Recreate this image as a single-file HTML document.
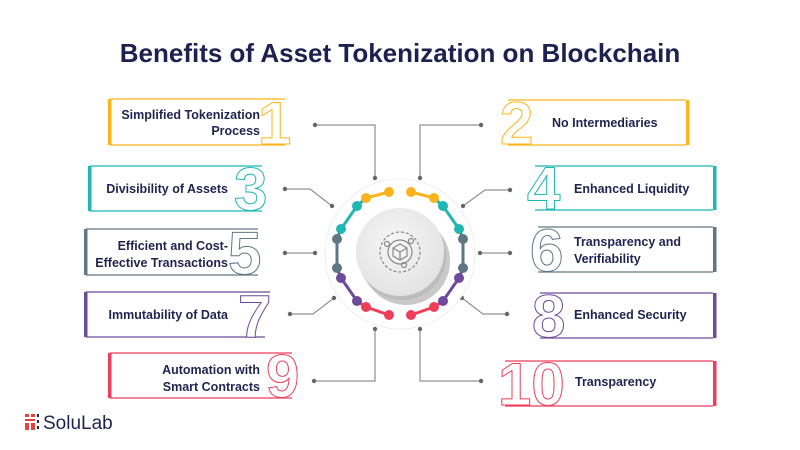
<!DOCTYPE html>
<html><head><meta charset="utf-8"><style>
body{margin:0;background:#fff;}
svg{display:block;font-family:"Liberation Sans",sans-serif;}
.t{font-weight:bold;font-size:12.5px;fill:#1f2450;}
.n{font-weight:bold;font-size:60px;fill:#fff;stroke-width:1;}
</style></head><body>
<svg width="800" height="450" viewBox="0 0 800 450">
<rect width="800" height="450" fill="#fff"/>
<text x="400" y="62" text-anchor="middle" style="font-weight:bold;font-size:26px;fill:#1c2150">Benefits of Asset Tokenization on Blockchain</text>

<g fill="none" stroke-width="1.3">
<path d="M110 99H285M110 145H285" stroke="#fbb41b"/><rect x="108" y="99" width="3.5" height="46" fill="#fbb41b" stroke="none"/>
<path d="M90 166H262M90 211H262" stroke="#1fb6b3"/><rect x="88" y="166" width="3.5" height="45" fill="#1fb6b3" stroke="none"/>
<path d="M86 229H258M86 275H258" stroke="#5f7785"/><rect x="84" y="229" width="3.5" height="46" fill="#5f7785" stroke="none"/>
<path d="M86 292H270M86 337H265" stroke="#6d4a9a"/><rect x="84" y="292" width="3.5" height="45" fill="#6d4a9a" stroke="none"/>
<path d="M110 353H292M110 398H292" stroke="#ef3e5c"/><rect x="108" y="353" width="3.5" height="45" fill="#ef3e5c" stroke="none"/>
<path d="M686 100H508M686 145H508" stroke="#fbb41b"/><rect x="686" y="100" width="3.5" height="45" fill="#fbb41b" stroke="none"/>
<path d="M713 166H535M713 210H535" stroke="#1fb6b3"/><rect x="713" y="166" width="3.5" height="44" fill="#1fb6b3" stroke="none"/>
<path d="M713 227H538M713 272H538" stroke="#5f7785"/><rect x="713" y="227" width="3.5" height="45" fill="#5f7785" stroke="none"/>
<path d="M713 293H540M713 338H540" stroke="#6d4a9a"/><rect x="713" y="293" width="3.5" height="45" fill="#6d4a9a" stroke="none"/>
<path d="M713 361H505M713 406H505" stroke="#ef3e5c"/><rect x="713" y="361" width="3.5" height="45" fill="#ef3e5c" stroke="none"/>
</g>

<text class="n" x="258" y="144" stroke="#fbb41b">1</text>
<text class="n" x="234" y="210" stroke="#1fb6b3">3</text>
<text class="n" x="228" y="274" stroke="#5f7785">5</text>
<text class="n" x="238" y="337" stroke="#6d4a9a">7</text>
<text class="n" x="266" y="397" stroke="#ef3e5c">9</text>
<text class="n" x="500" y="144" stroke="#fbb41b">2</text>
<text class="n" x="527" y="209" stroke="#1fb6b3">4</text>
<text class="n" x="530" y="271" stroke="#5f7785">6</text>
<text class="n" x="532" y="337" stroke="#6d4a9a">8</text>
<text class="n" x="498" y="405" stroke="#ef3e5c">10</text>

<g class="t" text-anchor="end">
<text class="t" x="260" y="119">Simplified Tokenization</text>
<text class="t" x="260" y="135">Process</text>
<text class="t" x="228" y="193">Divisibility of Assets</text>
<text class="t" x="228" y="250">Efficient and Cost-</text>
<text class="t" x="228" y="267">Effective Transactions</text>
<text class="t" x="228" y="319">Immutability of Data</text>
<text class="t" x="260" y="374">Automation with</text>
<text class="t" x="260" y="391">Smart Contracts</text>
</g>
<text class="t" x="552" y="127">No Intermediaries</text>
<text class="t" x="574" y="193">Enhanced Liquidity</text>
<text class="t" x="574" y="246">Transparency and</text>
<text class="t" x="574" y="263">Verifiability</text>
<text class="t" x="574" y="319">Enhanced Security</text>
<text class="t" x="575" y="386">Transparency</text>

<g stroke="#777" stroke-width="1" fill="none">
<path d="M315 125H375V178"/><path d="M285 189H310L332 206"/><path d="M285 253H315"/><path d="M290 314H313L334 298"/><path d="M314 381H375V329"/>
<path d="M481 125H420V178"/><path d="M510 190H485L463 206"/><path d="M510 253H480"/><path d="M507 314H483L462 298"/><path d="M481 381H420V329"/>
</g>
<g fill="#666">
<circle cx="315" cy="125" r="2.2"/><circle cx="375" cy="178" r="2.2"/><circle cx="285" cy="189" r="2.2"/><circle cx="332" cy="206" r="2.2"/><circle cx="285" cy="253" r="2.2"/><circle cx="315" cy="253" r="2.2"/><circle cx="290" cy="314" r="2.2"/><circle cx="334" cy="298" r="2.2"/><circle cx="314" cy="381" r="2.2"/><circle cx="375" cy="329" r="2.2"/>
<circle cx="481" cy="125" r="2.2"/><circle cx="420" cy="178" r="2.2"/><circle cx="510" cy="190" r="2.2"/><circle cx="463" cy="206" r="2.2"/><circle cx="510" cy="253" r="2.2"/><circle cx="480" cy="253" r="2.2"/><circle cx="507" cy="314" r="2.2"/><circle cx="462" cy="298" r="2.2"/><circle cx="481" cy="381" r="2.2"/><circle cx="420" cy="329" r="2.2"/>
</g>

<circle cx="400" cy="254" r="75" fill="#fff" stroke="#ddd" stroke-width="1" stroke-dasharray="1.5 1.5"/>
<defs><radialGradient id="g" cx="45%" cy="40%" r="60%"><stop offset="0" stop-color="#f7f7f7"/><stop offset="1" stop-color="#e3e3e3"/></radialGradient></defs>
<circle cx="406" cy="261" r="44" fill="#888" opacity="0.45"/>
<circle cx="402" cy="256" r="44" fill="#aaa" opacity="0.4"/>
<circle cx="400" cy="252" r="44" fill="url(#g)"/>
<g fill="none" stroke="#888" stroke-width="1.2">
<circle cx="400" cy="252" r="20" stroke-dasharray="3 2"/>
<circle cx="400" cy="252" r="12"/>
<path d="M393 248L400 244L407 248V256L400 260L393 256Z M393 248L400 252L407 248 M400 252V260"/>
<circle cx="387" cy="244" r="2.5"/><circle cx="411" cy="241" r="2.5"/><circle cx="404" cy="265" r="2.5"/>
</g>

<g stroke-width="3" fill="none" stroke-linecap="round">
<path d="M389 192L366 198" stroke="#fbb41b"/><path d="M366 198L357 206L341 229" stroke="#1fb6b3"/><path d="M337 239V268" stroke="#5f7785"/><path d="M341 278L357 301" stroke="#6d4a9a"/><path d="M366 307L389 315" stroke="#ef3e5c"/><path d="M357 301L366 307" stroke="#ef3e5c"/>
<path d="M411 192L434 198" stroke="#fbb41b"/><path d="M434 198L443 206L459 229" stroke="#1fb6b3"/><path d="M463 239V268" stroke="#5f7785"/><path d="M459 278L443 301" stroke="#6d4a9a"/><path d="M434 307L411 315" stroke="#ef3e5c"/><path d="M443 301L434 307" stroke="#ef3e5c"/>
<path d="M341 229L337 239" stroke="#5f7785"/><path d="M337 268L341 278" stroke="#6d4a9a"/><path d="M459 229L463 239" stroke="#5f7785"/><path d="M463 268L459 278" stroke="#6d4a9a"/>
</g>
<g>
<circle cx="389" cy="192" r="5" fill="#fbb41b"/><circle cx="366" cy="198" r="5" fill="#fbb41b"/><circle cx="357" cy="206" r="5" fill="#1fb6b3"/><circle cx="341" cy="229" r="5" fill="#1fb6b3"/><circle cx="337" cy="239" r="5" fill="#5f7785"/><circle cx="337" cy="268" r="5" fill="#5f7785"/><circle cx="341" cy="278" r="5" fill="#6d4a9a"/><circle cx="357" cy="301" r="5" fill="#6d4a9a"/><circle cx="366" cy="307" r="5" fill="#ef3e5c"/><circle cx="389" cy="315" r="5" fill="#ef3e5c"/>
<circle cx="411" cy="192" r="5" fill="#fbb41b"/><circle cx="434" cy="198" r="5" fill="#fbb41b"/><circle cx="443" cy="206" r="5" fill="#1fb6b3"/><circle cx="459" cy="229" r="5" fill="#1fb6b3"/><circle cx="463" cy="239" r="5" fill="#5f7785"/><circle cx="463" cy="268" r="5" fill="#5f7785"/><circle cx="459" cy="278" r="5" fill="#6d4a9a"/><circle cx="443" cy="301" r="5" fill="#6d4a9a"/><circle cx="434" cy="307" r="5" fill="#ef3e5c"/><circle cx="411" cy="315" r="5" fill="#ef3e5c"/>
</g>

<g fill="#e8413b">
<rect x="25" y="414" width="4" height="3"/><rect x="31" y="414" width="4" height="3"/><rect x="25" y="419" width="10" height="2"/><rect x="25" y="423" width="4" height="7"/><rect x="31" y="423" width="4" height="7"/>
</g>
<g fill="#1f2450"><rect x="37" y="414" width="2" height="3"/><rect x="37" y="420" width="2" height="3"/><rect x="37" y="426" width="2" height="3"/></g>
<text x="43" y="429" style="font-size:19px;fill:#1f2450">SoluLab</text>
</svg>
</body></html>
